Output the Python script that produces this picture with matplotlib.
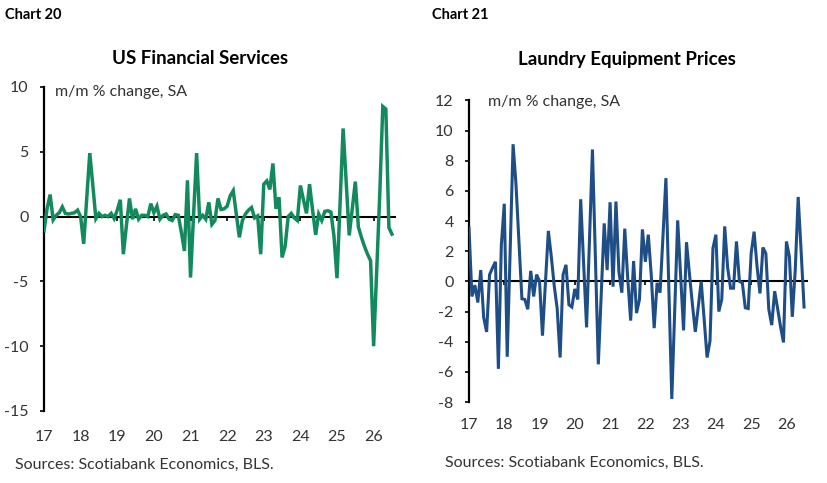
import numpy as np
import matplotlib
matplotlib.use("Agg")
import matplotlib.pyplot as plt
import matplotlib.transforms as mtransforms

plt.rcParams["font.family"] = ["Lato", "DejaVu Sans"]
plt.rcParams["axes.unicode_minus"] = False

# monthly m/m % change, Jan 2017 onwards
fin_services = [
    -1.1, 0.6, 1.7, -0.25, 0.1, 0.3, 0.75, 0.25, 0.2, 0.25, 0.3, 0.5,
    0.0, -2.1, 1.4, 4.9, 2.4, -0.15, 0.25, 0.0, 0.1, 0.0, 0.25, -0.15,
    0.5, 1.3, -2.9, -0.7, 1.4, -0.2, 0.6, -0.2, 0.1, 0.1, 0.0, 1.0,
    0.3, 0.8, -0.2, 0.1, 0.2, -0.2, -0.3, 0.15, 0.1, -1.2, -2.65, 2.8,
    -4.7, 0.1, 4.9, -0.2, 0.1, -0.2, 1.1, -0.6, -0.3, 1.4, 0.55, 0.6,
    0.8, 1.6, 2.0, 0.2, -1.6, -0.3, 0.2, 0.5, 0.7, -0.1, 0.05, -2.9,
    2.5, 2.75, 2.1, 4.1, 0.6, 1.5, -3.15, -2.3, 0.0, 0.25, -0.1, -0.3,
    2.4, 1.3, 0.25, 2.5, 0.5, -1.4, 0.2, -0.3, 0.4, 0.45, 0.35, -1.5,
    -4.75, 1.0, 6.8, 2.7, -1.45, 0.6, 2.7, -0.8, -1.6, -2.3, -2.9, -3.4,
    -10.0, -4.2, 1.7, 8.5, 8.3, -0.85, -1.35,
]
laundry = [
    3.55, -1.0, -0.25, -1.4, 0.75, -2.4, -3.35, 0.45, 0.9, 1.3, -5.8, 2.4,
    5.15, -5.0, 2.0, 9.1, 6.4, 2.6, -1.15, -1.2, -1.85, 0.7, -1.0, 0.45,
    0.0, -3.6, -0.1, 3.35, 1.65, -0.3, -1.8, -5.05, 0.45, 1.1, -1.55, -1.7,
    -0.5, -1.2, 5.45, 1.2, -3.05, 2.8, 8.75, 1.6, -5.5, -0.8, 3.85, 0.75,
    5.25, -0.35, 5.3, 0.65, -0.75, 3.5, 0.2, -2.6, 1.35, -2.1, -1.2, 3.45,
    1.3, 3.1, 0.45, -3.1, -0.1, -0.75, 3.0, 6.85, -0.5, -7.8, -1.9, 4.05,
    0.4, -3.25, 2.6, 0.5, -1.5, -3.35, -1.7, 0.0, -2.5, -5.05, -3.95, 2.2,
    3.1, -2.0, -1.2, 3.65, 0.9, -0.45, -0.45, 2.65, 0.0, -0.1, -1.75, -1.8,
    1.85, 3.3, 1.0, -0.8, 2.25, 1.85, -1.85, -2.9, -0.65, -1.8, -3.0, -4.05,
    2.65, 1.65, -2.35, 0.75, 5.6, 2.0, -1.7,
]
years = list(range(2017, 2027))
year_labels = [str(y)[2:] for y in years]

W, H = 828, 483
GREEN = "#138a5e"
BLUE = "#1f4e86"
TXT = "#333333"


def px_rect(x0, y_top, x1, y_bot):
    return [x0 / W, 1 - y_bot / H, (x1 - x0) / W, (y_bot - y_top) / H]


def style_panel(ax, series, color, lw, ylim, ystep, label_y):
    x = 2017 + np.arange(len(series)) / 12
    ax.plot(x, series, color=color, lw=lw, solid_joinstyle="miter", zorder=3)
    ax.set_xlim(2017, 2017 + 115 / 12)
    ax.set_ylim(*ylim)
    ax.set_yticks(np.arange(ylim[0], ylim[1] + 0.1, ystep))
    ax.spines[["top", "right"]].set_visible(False)
    ax.spines["left"].set_linewidth(1.6)
    ax.spines["bottom"].set_position(("data", 0))
    ax.spines["bottom"].set_linewidth(1.5)
    ax.spines["bottom"].set_zorder(2)
    ax.set_xticks(years[1:])
    ax.tick_params(axis="x", direction="out", length=3, width=1.2, labelbottom=False)
    ax.tick_params(axis="y", direction="out", length=3, width=1.2,
                   labelsize=11.5, labelcolor=TXT, pad=8)
    trans = mtransforms.blended_transform_factory(ax.transData, ax.transAxes)
    for yr, lab in zip(years, year_labels):
        ax.text(yr, label_y, lab, transform=trans, ha="center", va="center",
                fontsize=11.5, color=TXT)


fig = plt.figure(figsize=(W / 100, H / 100), dpi=100)

ax1 = fig.add_axes(px_rect(44, 87, 395, 411))
style_panel(ax1, fin_services, GREEN, 2.5, (-15, 10), 5, -0.08)
ax1.text(11 / 351, 0.985, "m/m % change, SA", transform=ax1.transAxes,
         fontsize=11.5, color=TXT, va="center", ha="left")

ax2 = fig.add_axes(px_rect(469, 100.5, 807, 402))
style_panel(ax2, laundry, BLUE, 2.2, (-8, 12), 2, -0.075)
ax2.text(19 / 338, 0.995, "m/m % change, SA", transform=ax2.transAxes,
         fontsize=11.5, color=TXT, va="center", ha="left")

fig.text(5 / W, 1 - 15 / H, "Chart 20", fontsize=10.5, fontweight="bold", va="center")
fig.text(432 / W, 1 - 15 / H, "Chart 21", fontsize=10.5, fontweight="bold", va="center")
fig.text(200 / W, 1 - 58 / H, "US Financial Services", fontsize=13.5,
         fontweight="bold", ha="center", va="center")
fig.text(627 / W, 1 - 60 / H, "Laundry Equipment Prices", fontsize=13.5,
         fontweight="bold", ha="center", va="center")
fig.text(15 / W, 1 - 465 / H, "Sources: Scotiabank Economics, BLS.", fontsize=11.5,
         color=TXT, va="center")
fig.text(445 / W, 1 - 463 / H, "Sources: Scotiabank Economics, BLS.", fontsize=11.5,
         color=TXT, va="center")

fig.savefig("out.png", dpi=100)
